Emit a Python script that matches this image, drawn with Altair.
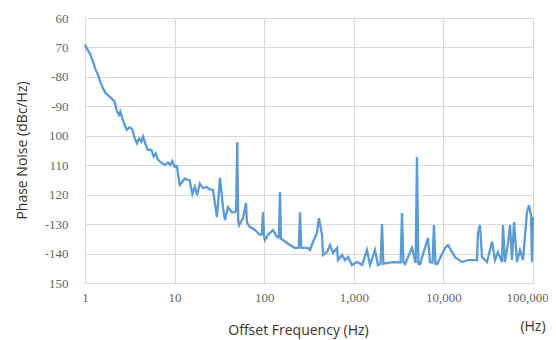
import altair as alt
import pandas as pd

freq_hz = [1.00, 1.02, 1.13, 1.23, 1.32, 1.40, 1.48, 1.59, 1.70, 1.81, 1.97, 2.14, 2.28, 2.40,
           2.48, 2.61, 2.77, 2.94, 3.15, 3.37, 3.59, 3.80, 4.01, 4.25, 4.44, 4.76, 5.05, 5.50,
           5.84, 6.15, 6.53, 7.11, 7.76, 8.44, 8.96, 9.43, 10.0, 10.6, 11.4, 12.2, 13.0, 13.8,
           14.7, 15.8, 16.8, 17.8, 19.1, 20.7, 22.6, 24.7, 26.8, 29.7, 32.1, 34.7, 36.5, 39.4,
           43.7, 47.2, 48.6, 50.0, 51.3, 52.3, 58.0, 62.6, 64.3, 69.5, 78.9, 89.8, 94.0, 97.0,
           100, 102, 110, 125, 139, 146, 150, 154, 162, 180, 194, 221, 243, 251, 259, 271, 308,
           324, 351, 388, 409, 442, 453, 502, 542, 586, 650, 666, 739, 798, 862, 955, 1086,
           1236, 1404, 1517, 1725, 1862, 1990, 2065, 2140, 2230, 2740, 3330, 3450, 3580, 3727,
           4465, 4900, 5070, 5250, 5480, 6730, 7080, 7560, 7850, 8150, 8490, 10430, 11250,
           13460, 16130, 18830, 23730, 24330, 25600, 26970, 30680, 34860, 37660, 40650, 45080,
           46240, 48700, 52600, 55370, 58320, 61420, 66280, 71600, 77300, 85700, 90200, 95000,
           97500, 100000]
noise_dbc = [-69.0, -69.7, -72.0, -74.8, -77.7, -79.4, -81.6, -83.9, -85.6, -86.2, -87.3, -88.4,
             -91.8, -92.9, -91.8, -94.1, -96.3, -98.0, -97.1, -97.8, -100.9, -102.6, -100.9,
             -102.0, -100.3, -103.1, -104.8, -104.8, -107.1, -106.0, -108.2, -109.1, -109.9,
             -109.1, -109.9, -108.6, -110.5, -110.3, -116.7, -115.6, -114.5, -114.9, -115.1,
             -119.8, -117.3, -120.1, -116.2, -117.8, -117.3, -118.2, -118.4, -127.6, -114.3,
             -124.5, -128.6, -124.2, -126.0, -125.9, -125.5, -102.1, -128.5, -130.3, -128.0,
             -122.8, -129.6, -131.0, -132.0, -133.7, -133.5, -126.0, -134.5, -135.4, -133.7,
             -132.0, -134.4, -134.5, -119.1, -135.0, -135.4, -136.4, -137.1, -138.1, -138.0,
             -126.0, -138.0, -138.1, -138.1, -138.8, -136.0, -133.0, -128.0, -133.7, -140.5,
             -139.5, -137.1, -139.8, -138.1, -142.2, -140.5, -142.2, -141.2, -143.9, -142.9,
             -143.9, -138.8, -143.9, -138.8, -143.9, -143.5, -130.0, -143.5, -143.3, -142.9,
             -143.0, -126.2, -143.0, -143.6, -138.1, -143.2, -107.2, -143.4, -143.6, -134.7,
             -142.9, -143.0, -130.3, -143.5, -143.6, -138.1, -137.1, -141.2, -142.9, -142.2,
             -142.2, -133.0, -130.3, -141.2, -142.9, -136.0, -142.2, -139.5, -142.9, -130.3,
             -142.9, -136.5, -130.3, -142.2, -129.3, -142.9, -138.8, -142.2, -126.0, -123.6,
             -127.0, -142.9, -127.6]

x_ticks = [1, 10, 100, 1000, 10000, 100000]
y_ticks = [-150, -140, -130, -120, -110, -100, -90, -80, -70, -60]
y_tick_labels = ["150", "-140", "-130", "120", "110", "100", "-90", "-80", "70", "60"]

df = pd.DataFrame({"f": freq_hz, "pn": noise_dbc})

label_map = "{" + ",".join(f"'{v}':'{t}'" for v, t in zip(y_ticks, y_tick_labels)) + "}"

line = alt.Chart(df).mark_line(color="#5B9BD5", strokeWidth=2.3).encode(
    x=alt.X("f:Q",
            scale=alt.Scale(type="log", domain=[1, 100000], nice=False),
            axis=alt.Axis(values=x_ticks, format=",", title="Offset Frequency (Hz)",
                          titleX=213, titleY=47, titleBaseline="middle",
                          labelPadding=8, labelFlush=False,
                          labelOffset={"expr": "datum.value >= 100000 ? -6 : 0"})),
    y=alt.Y("pn:Q",
            scale=alt.Scale(domain=[-150, -60], nice=False),
            axis=alt.Axis(values=y_ticks, labelExpr=label_map + "[datum.value]",
                          title="Phase Noise (dBc/Hz)", titleX=-63, titleY=132,
                          titleBaseline="middle", titleAngle=-90,
                          labelPadding=17, labelFlush=False)),
)

hz_text = alt.Chart(pd.DataFrame({"t": ["(Hz)"]})).mark_text(
    font="Open Sans", fontSize=14, color="#333333", align="center", baseline="middle"
).encode(x=alt.value(448), y=alt.value(309), text="t:N")

chart = alt.layer(line, hz_text).properties(
    width=448, height=265,
    autosize=alt.AutoSizeParams(type="none"),
    padding={"left": 77, "top": 10, "right": 15, "bottom": 57},
).configure_view(stroke=None).configure_axis(
    grid=True, gridColor="#d9d9d9", gridWidth=1,
    domainColor="#d9d9d9", ticks=False,
    labelFont="Liberation Serif", labelFontSize=13, labelColor="#666666",
    titleFont="Open Sans", titleFontSize=14, titleFontWeight="normal", titleColor="#333333",
)

chart.save("out.html", embed_options={"renderer": "svg", "actions": False})
